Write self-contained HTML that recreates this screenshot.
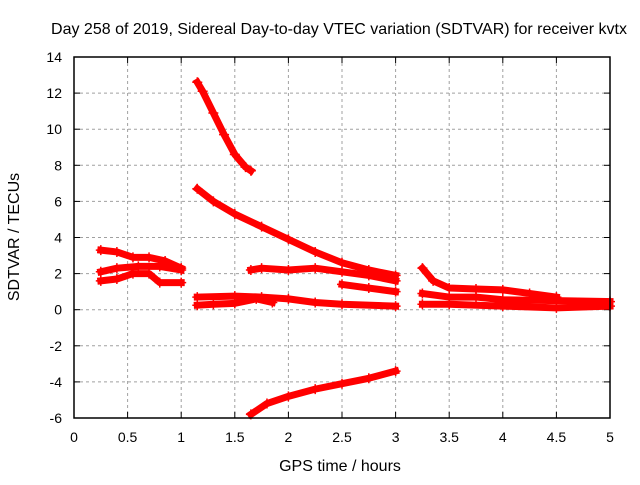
<!DOCTYPE html>
<html><head><meta charset="utf-8"><style>
body{margin:0;background:#fff}
svg{font-family:"Liberation Sans",sans-serif;font-size:14px}
.big{font-size:16px}
</style></head><body>
<svg id="c" width="640" height="480">
<text class="big" x="339" y="34" text-anchor="middle">Day 258 of 2019, Sidereal Day-to-day VTEC variation (SDTVAR) for receiver kvtx</text>
<text class="big" x="340" y="471" text-anchor="middle">GPS time / hours</text>
<text class="big" transform="translate(19,237) rotate(-90)" text-anchor="middle">SDTVAR / TECUs</text>
<g id="grid"></g>
<g id="ticks"></g>
<g id="marks"></g>
<rect x="74" y="57" width="536" height="361" fill="none" stroke="#000" stroke-width="1.5"/>
</svg>
<script>
const xTicks=[0,0.5,1,1.5,2,2.5,3,3.5,4,4.5,5];
const xTickLabels=["0","0.5","1","1.5","2","2.5","3","3.5","4","4.5","5"];
const yTicks=[-6,-4,-2,0,2,4,6,8,10,12,14];
const yTickLabels=["-6","-4","-2","0","2","4","6","8","10","12","14"];
const trackAx=[0.25,0.4,0.55,0.7,0.85,1.0];
const trackAy=[3.3,3.2,2.9,2.9,2.7,2.3];
const trackBx=[0.25,0.4,0.6,0.8,1.0];
const trackBy=[2.1,2.3,2.4,2.4,2.2];
const trackCx=[0.25,0.4,0.55,0.7,0.8,1.0];
const trackCy=[1.6,1.7,2.0,2.0,1.5,1.5];
const trackDx=[1.15,1.2,1.3,1.4,1.5,1.6,1.65];
const trackDy=[12.6,12.1,10.9,9.7,8.6,7.9,7.7];
const trackEx=[1.15,1.3,1.5,1.75,2.0,2.25,2.5,2.75,3.0];
const trackEy=[6.7,6.0,5.3,4.6,3.9,3.2,2.6,2.2,1.9];
const trackFx=[1.65,1.75,2.0,2.25,2.5,2.75,3.0];
const trackFy=[2.2,2.3,2.2,2.3,2.1,1.9,1.6];
const trackGx=[2.5,2.75,3.0];
const trackGy=[1.4,1.2,1.0];
const trackHx=[1.15,1.5,1.75,2.0,2.25,2.5,3.0];
const trackHy=[0.7,0.75,0.7,0.6,0.4,0.3,0.2];
const trackIx=[1.15,1.3,1.5,1.7,1.85];
const trackIy=[0.25,0.3,0.35,0.6,0.4];
const trackJx=[1.65,1.8,2.0,2.25,2.5,2.75,3.0];
const trackJy=[-5.8,-5.2,-4.8,-4.4,-4.1,-3.8,-3.4];
const trackKx=[3.25,3.35,3.5,3.75,4.0,4.25,4.5];
const trackKy=[2.3,1.6,1.2,1.15,1.1,0.9,0.7];
const trackLx=[3.25,3.5,3.75,4.0,4.5,5.0];
const trackLy=[0.9,0.7,0.7,0.55,0.5,0.45];
const trackMx=[3.25,3.5,4.0,4.5,5.0];
const trackMy=[0.3,0.3,0.2,0.1,0.2];
const tracks=[[trackAx,trackAy],[trackBx,trackBy],[trackCx,trackCy],[trackDx,trackDy],[trackEx,trackEy],[trackFx,trackFy],[trackGx,trackGy],[trackHx,trackHy],[trackIx,trackIy],[trackJx,trackJy],[trackKx,trackKy],[trackLx,trackLy],[trackMx,trackMy]];
const X=v=>74+v*536/5, Y=v=>418-(v+6)*361/20;
const NS="http://www.w3.org/2000/svg";
function mk(t,a,p){const e=document.createElementNS(NS,t);for(const k in a)e.setAttribute(k,a[k]);p.appendChild(e);return e;}
const grid=document.getElementById('grid'),ticks=document.getElementById('ticks'),marks=document.getElementById('marks');
xTicks.forEach((v,i)=>{
  if(i>0&&i<xTicks.length-1){const g=mk('line',{x1:X(v),x2:X(v),y1:57,y2:418,stroke:'#a0a0a0','stroke-dasharray':'3,3'},grid);
  
  }
  mk('line',{x1:X(v),x2:X(v),y1:418,y2:412,stroke:'#000'},ticks);
  mk('line',{x1:X(v),x2:X(v),y1:57,y2:63,stroke:'#000'},ticks);
  const t=mk('text',{x:X(v),y:442,'text-anchor':'middle'},ticks);t.textContent=xTickLabels[i];
  
  
});
yTicks.forEach((v,i)=>{
  if(i>0&&i<yTicks.length-1){const g=mk('line',{x1:74,x2:610,y1:Y(v),y2:Y(v),stroke:'#a0a0a0','stroke-dasharray':'3,3'},grid);
  
  }
  mk('line',{x1:74,x2:80,y1:Y(v),y2:Y(v),stroke:'#000'},ticks);
  mk('line',{x1:610,x2:604,y1:Y(v),y2:Y(v),stroke:'#000'},ticks);
  const t=mk('text',{x:62,y:Y(v)+5,'text-anchor':'end'},ticks);t.textContent=yTickLabels[i];
  
  
});
tracks.forEach(([xs,ys])=>{
  const pts=xs.map((x,i)=>X(x)+','+Y(ys[i])).join(' ');
  const pl=mk('polyline',{points:pts,fill:'none',stroke:'#f00','stroke-width':7,'stroke-linejoin':'round','stroke-linecap':'square'},marks);
  
  
  xs.forEach((x,i)=>{
    const cx=X(x),cy=Y(ys[i]);
    const p=mk('path',{d:`M${cx-5},${cy}H${cx+5}M${cx},${cy-5}V${cy+5}`,stroke:'#f00','stroke-width':1.5},marks);
    
    
  });
});
</script>
</body></html>
